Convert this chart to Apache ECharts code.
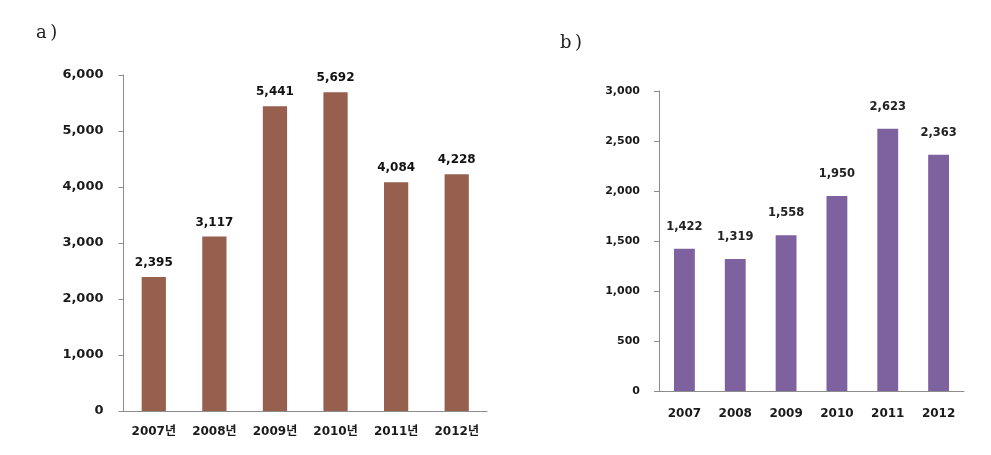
<!DOCTYPE html>
<html><head><meta charset="utf-8">
<script src="https://cdn.jsdelivr.net/npm/echarts@6/dist/echarts.min.js"></script>
<style>html,body{margin:0;padding:0;background:#fff}#c{width:991px;height:455px}</style>
</head><body><div id="c"></div>
<script>
const catsA = ['2007년','2008년','2009년','2010년','2011년','2012년'];
const valsA = [2395, 3117, 5441, 5692, 4084, 4228];
const catsB = ['2007','2008','2009','2010','2011','2012'];
const valsB = [1422, 1319, 1558, 1950, 2623, 2363];
const fmt = v => Number(v).toLocaleString('en-US');
const FONT = 'DejaVu Sans, Noto Sans CJK KR, sans-serif';
const axisGray = '#8c8c8c';
const chart = echarts.init(document.getElementById('c'));
chart.setOption({
  backgroundColor: '#fff',
  animation: false,
  title: [
    {text: 'a\u2009)', left: 31, top: 19, textStyle: {fontFamily: 'DejaVu Serif, Liberation Serif, serif', fontWeight: 'normal', fontSize: 18, color: '#222'}},
    {text: 'b\u2009)', left: 555, top: 29, textStyle: {fontFamily: 'DejaVu Serif, Liberation Serif, serif', fontWeight: 'normal', fontSize: 18, color: '#222'}}
  ],
  grid: [
    {left: 123.5, top: 75, right: 504, bottom: 44},
    {left: 659, top: 91, right: 27, bottom: 64}
  ],
  xAxis: [
    {type: 'category', gridIndex: 0, data: catsA,
     axisLine: {lineStyle: {color: axisGray}}, axisTick: {length: 5, lineStyle: {color: axisGray}},
     axisLabel: {margin: 15, fontFamily: FONT, fontWeight: 'bold', fontSize: 12, color: '#1a1a1a'}},
    {type: 'category', gridIndex: 1, data: catsB,
     axisLine: {lineStyle: {color: axisGray}}, axisTick: {length: 5, lineStyle: {color: axisGray}},
     axisLabel: {margin: 17, fontFamily: FONT, fontWeight: 'bold', fontSize: 12, color: '#1a1a1a'}}
  ],
  yAxis: [
    {type: 'value', gridIndex: 0, min: 0, max: 6000, interval: 1000,
     axisLine: {show: true, lineStyle: {color: axisGray}}, axisTick: {show: true, length: 5, lineStyle: {color: axisGray}},
     splitLine: {show: false},
     axisLabel: {margin: 20, formatter: fmt, fontFamily: FONT, fontWeight: 'bold', fontSize: 13, color: '#1a1a1a'}},
    {type: 'value', gridIndex: 1, min: 0, max: 3000, interval: 500,
     axisLine: {show: true, lineStyle: {color: axisGray}}, axisTick: {show: true, length: 5, lineStyle: {color: axisGray}},
     splitLine: {show: false},
     axisLabel: {margin: 19, formatter: fmt, fontFamily: FONT, fontWeight: 'bold', fontSize: 11, color: '#1a1a1a'}}
  ],
  series: [
    {type: 'bar', xAxisIndex: 0, yAxisIndex: 0, data: valsA, barWidth: '40%',
     itemStyle: {color: '#965f4e'},
     label: {show: true, position: 'top', distance: 8, formatter: p => fmt(p.value), fontFamily: FONT, fontWeight: 'bold', fontSize: 12, color: '#111'}},
    {type: 'bar', xAxisIndex: 1, yAxisIndex: 1, data: valsB, barWidth: '41%',
     itemStyle: {color: '#7e62a0'},
     label: {show: true, position: 'top', distance: 16, formatter: p => fmt(p.value), fontFamily: FONT, fontWeight: 'bold', fontSize: 11.5, color: '#222'}}
  ]
});
</script></body></html>
